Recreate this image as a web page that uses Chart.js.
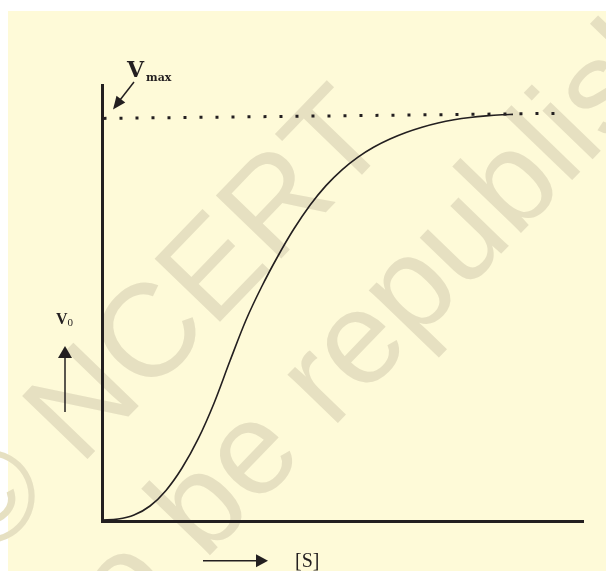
<!DOCTYPE html>
<html>
<head>
<meta charset="utf-8">
<script src="https://cdn.jsdelivr.net/npm/chart.js@4.4.1/dist/chart.umd.min.js"></script>
<style>
  html, body { margin: 0; padding: 0; background: #ffffff; }
  canvas { display: block; }
</style>
</head>
<body>
<canvas id="c" width="606" height="571"></canvas>
<script>
// Substrate concentration [S] and initial velocity V0 along the sigmoid curve
const substrate = [0, 0.332, 0.664, 0.996, 1.328, 1.660, 1.992, 2.324, 2.656, 2.988, 3.320, 3.651, 3.983, 4.315, 4.647, 4.979, 5.311, 5.643, 5.975, 6.307, 6.639, 6.971, 7.303, 7.635, 7.967, 8.299, 8.527];
const velocity  = [0, 0.0024, 0.0124, 0.0350, 0.0740, 0.1300, 0.2020, 0.2920, 0.3980, 0.5000, 0.5850, 0.6600, 0.7280, 0.7870, 0.8360, 0.8755, 0.9073, 0.9325, 0.9525, 0.9688, 0.9820, 0.9925, 1.0005, 1.0063, 1.0103, 1.0130, 1.0140];

// Vmax reference line (dotted)
const vmaxS = [0.031, 9.39];
const vmaxV = [1.004, 1.0165];

const axisLabels = { y: 'V', ySub: '0', x: '[S]', vmax: 'V', vmaxSub: 'max' };
const watermark = ['\u00A9 NCERT', 'not to be republished'];

const INK = '#231f20';
const PAPER = '#fefad8';
const WATER = '#e6e0c1';

const toPoints = (xs, ys) => xs.map((x, i) => ({ x: x, y: ys[i] }));

function arrowHead(ctx, tipX, tipY, angle, len, half) {
  ctx.save();
  ctx.translate(tipX, tipY);
  ctx.rotate(angle);
  ctx.beginPath();
  ctx.moveTo(0, 0);
  ctx.lineTo(-len, -half);
  ctx.lineTo(-len, half);
  ctx.closePath();
  ctx.fill();
  ctx.restore();
}

const pagePlugin = {
  id: 'page',
  beforeDraw(chart) {
    const ctx = chart.ctx;
    ctx.save();
    ctx.fillStyle = '#ffffff';
    ctx.fillRect(0, 0, chart.width, chart.height);
    ctx.fillStyle = PAPER;
    ctx.fillRect(8, 11, chart.width - 8, chart.height - 11);
    // faint diagonal watermark
    ctx.fillStyle = WATER;
    ctx.font = '132px "Liberation Sans", Arial, sans-serif';
    ctx.textBaseline = 'alphabetic';
    ctx.translate(-13, 563);
    ctx.rotate(-46 * Math.PI / 180);
    ctx.fillText(watermark[0], 0, 0);
    ctx.fillText(watermark[1], -215, 155);
    ctx.restore();
  },
  afterDatasetsDraw(chart) {
    const ctx = chart.ctx;
    const a = chart.chartArea;
    ctx.save();
    ctx.fillStyle = INK;
    ctx.strokeStyle = INK;
    // axes
    ctx.lineWidth = 3;
    ctx.lineCap = 'butt';
    ctx.beginPath();
    ctx.moveTo(a.left + 0.5, a.top);
    ctx.lineTo(a.left + 0.5, a.bottom + 3);
    ctx.moveTo(a.left - 1, a.bottom + 1.5);
    ctx.lineTo(a.right, a.bottom + 1.5);
    ctx.stroke();

    // Vmax label and pointer
    ctx.textBaseline = 'alphabetic';
    ctx.textAlign = 'left';
    ctx.font = 'bold 22px "DejaVu Serif", "Liberation Serif", serif';
    ctx.fillText(axisLabels.vmax, 127, 77);
    ctx.font = 'bold 11px "DejaVu Serif", "Liberation Serif", serif';
    ctx.fillText(axisLabels.vmaxSub, 146, 81);
    ctx.lineWidth = 1.5;
    ctx.beginPath();
    ctx.moveTo(134, 82);
    ctx.lineTo(120, 100);
    ctx.stroke();
    arrowHead(ctx, 113, 109.5, Math.atan2(109.5 - 82, 113 - 134), 13, 5.5);

    // V0 label and up arrow
    ctx.font = 'bold 16px "Liberation Serif", "DejaVu Serif", serif';
    ctx.fillText(axisLabels.y, 56, 324);
    ctx.font = '11px "Liberation Serif", "DejaVu Serif", serif';
    ctx.fillText(axisLabels.ySub, 67.5, 326);
    ctx.lineWidth = 1.5;
    ctx.beginPath();
    ctx.moveTo(65, 412);
    ctx.lineTo(65, 356);
    ctx.stroke();
    arrowHead(ctx, 65, 346, -Math.PI / 2, 12, 7);

    // [S] label and right arrow
    ctx.beginPath();
    ctx.moveTo(203, 560.7);
    ctx.lineTo(258, 560.7);
    ctx.stroke();
    arrowHead(ctx, 268, 560.7, 0, 12, 6.5);
    ctx.font = '20px "Liberation Serif", "DejaVu Serif", serif';
    ctx.fillText(axisLabels.x, 295, 567);
    ctx.restore();
  }
};

new Chart(document.getElementById('c'), {
  type: 'scatter',
  data: {
    datasets: [
      {
        data: toPoints(vmaxS, vmaxV),
        showLine: true,
        borderColor: INK,
        borderWidth: 3,
        borderDash: [3, 13],
        borderCapStyle: 'butt',
        pointRadius: 0,
        fill: false
      },
      {
        data: toPoints(substrate, velocity),
        showLine: true,
        borderColor: INK,
        borderWidth: 1.6,
        cubicInterpolationMode: 'monotone',
        pointRadius: 0,
        fill: false
      }
    ]
  },
  options: {
    responsive: false,
    animation: false,
    devicePixelRatio: 1,
    layout: { padding: { left: 102, right: 22, top: 84, bottom: 51 } },
    scales: {
      x: { type: 'linear', min: 0, max: 10, display: false },
      y: { type: 'linear', min: 0, max: 1.09, display: false }
    },
    plugins: {
      legend: { display: false },
      tooltip: { enabled: false }
    }
  },
  plugins: [pagePlugin]
});
</script>
</body>
</html>
